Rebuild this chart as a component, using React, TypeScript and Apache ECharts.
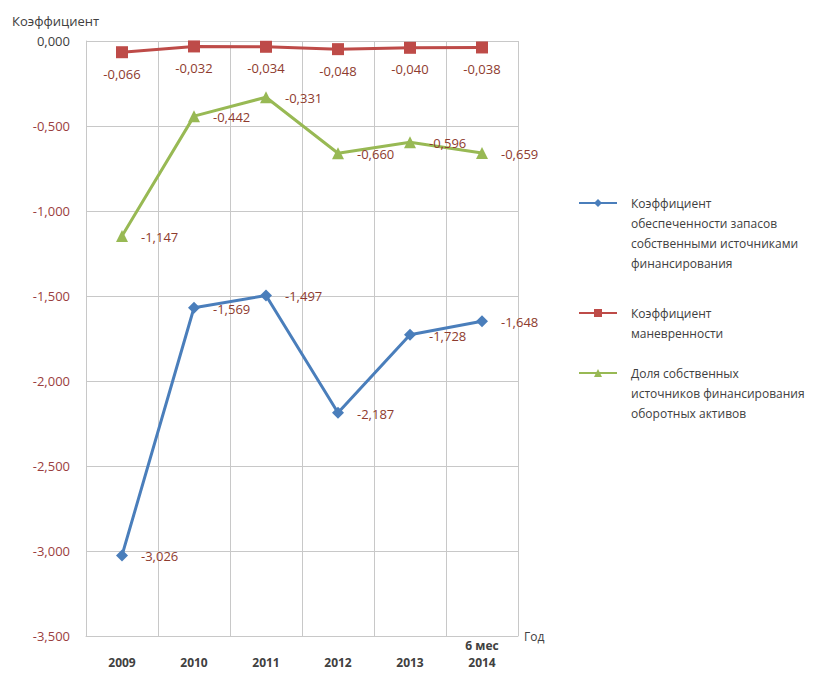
import React, { useEffect, useRef } from "react";
import * as echarts from "echarts";

const categories = ["2009", "2010", "2011", "2012", "2013", "6 мес\n2014"];
const coverageRatio = [-3.026, -1.569, -1.497, -2.187, -1.728, -1.648];
const maneuverRatio = [-0.066, -0.032, -0.034, -0.048, -0.04, -0.038];
const ownShareRatio = [-1.147, -0.442, -0.331, -0.66, -0.596, -0.659];

const seriesNames = [
  "Коэффициент обеспеченности запасов собственными источниками финансирования",
  "Коэффициент маневренности",
  "Доля собственных источников финансирования оборотных активов",
];
const legendTexts = [
  "Коэффициент\nобеспеченности запасов\nсобственными источниками\nфинансирования",
  "Коэффициент\nманевренности",
  "Доля собственных\nисточников финансирования\nоборотных активов",
];
const yTitle = "Коэффициент";
const xTitle = "Год";

const FONT = "'Open Sans', 'DejaVu Sans', sans-serif";
const fmt = (v: number) => v.toFixed(3).replace(".", ",");

export default function App() {
  const ref = useRef<HTMLDivElement>(null);
  useEffect(() => {
    document.body.style.margin = "0";
    const chart = echarts.init(ref.current!, null, { renderer: "svg" });
    const LH = 20;
    const legendTops = [203, 313, 373];
    const legends = seriesNames.map((name, i) => {
      const n = legendTexts[i].split("\n").length;
      const padded = "\n".repeat(n - 1) + legendTexts[i];
      const half = ((2 * n - 1) * LH) / 2;
      return {
        data: [name],
        left: 578,
        top: legendTops[i] - half,
        orient: "vertical",
        padding: 0,
        itemWidth: 38,
        itemHeight: 10,
        formatter: () => padded,
        textStyle: {
          fontFamily: FONT,
          fontSize: 12,
          lineHeight: LH,
          color: "#404040",
          padding: [0, 0, 0, 9],
        },
      };
    });
    const labelBase = {
      show: true,
      formatter: (p: any) => fmt(p.value),
      color: "#8E3B2E",
      fontSize: 13,
      fontFamily: FONT,
    };
    chart.setOption({
      animation: false,
      backgroundColor: "#ffffff",
      title: {
        text: yTitle,
        left: 12,
        top: 14,
        padding: 0,
        textStyle: { fontFamily: FONT, fontSize: 13, fontWeight: "normal", color: "#404040" },
      },
      legend: legends,
      grid: { left: 86, right: 315, top: 41, bottom: 41 },
      xAxis: {
        type: "category",
        data: categories,
        boundaryGap: true,
        name: xTitle,
        nameLocation: "end",
        nameGap: 6,
        nameTextStyle: { fontFamily: FONT, fontSize: 12, color: "#404040" },
        axisLine: { show: true, onZero: false, lineStyle: { color: "#c8c8c8", width: 1 } },
        axisTick: { show: false },
        splitLine: { show: true, lineStyle: { color: "#c8c8c8", width: 1 } },
        axisLabel: {
          fontFamily: FONT,
          fontSize: 12,
          fontWeight: "bold",
          color: "#404040",
          lineHeight: 17,
          verticalAlign: "bottom",
          margin: 35,
          interval: 0,
        },
      },
      yAxis: {
        type: "value",
        min: -3.5,
        max: 0,
        interval: 0.5,
        axisLine: { show: true, lineStyle: { color: "#c8c8c8", width: 1 } },
        axisTick: { show: false },
        splitLine: { show: true, lineStyle: { color: "#c8c8c8", width: 1 } },
        axisLabel: {
          margin: 16,
          formatter: (v: number) => (v === 0 ? "{z|" + fmt(0) + "}" : "{n|" + fmt(v) + "}"),
          rich: {
            z: { fontFamily: FONT, fontSize: 13, color: "#404040" },
            n: { fontFamily: FONT, fontSize: 13, color: "#9B3E3E" },
          },
        },
      },
      series: [
        {
          name: seriesNames[0],
          type: "line",
          data: coverageRatio,
          symbol: "diamond",
          symbolSize: 12,
          color: "#4A7EBB",
          lineStyle: { width: 3, color: "#4A7EBB" },
          itemStyle: { color: "#4A7EBB" },
          label: { ...labelBase, position: "right", distance: 13, offset: [0, 1] },
        },
        {
          name: seriesNames[1],
          type: "line",
          data: maneuverRatio,
          symbol: "rect",
          symbolSize: 12,
          color: "#BE4B48",
          lineStyle: { width: 3, color: "#BE4B48" },
          itemStyle: { color: "#BE4B48" },
          label: { ...labelBase, position: "bottom", distance: 9 },
        },
        {
          name: seriesNames[2],
          type: "line",
          data: ownShareRatio,
          symbol: "triangle",
          symbolSize: 12,
          color: "#98B954",
          lineStyle: { width: 3, color: "#98B954" },
          itemStyle: { color: "#98B954" },
          label: { ...labelBase, position: "right", distance: 13, offset: [0, 1] },
        },
      ],
    });
    return () => chart.dispose();
  }, []);
  return <div ref={ref} style={{ width: 833, height: 677 }} />;
}
